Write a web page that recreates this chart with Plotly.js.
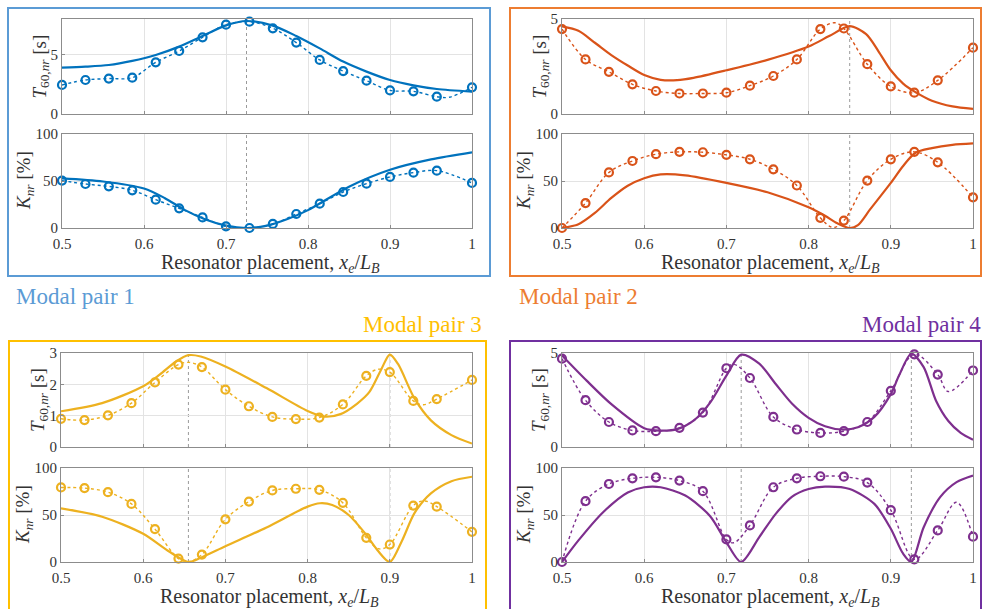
<!DOCTYPE html>
<html>
<head>
<meta charset="utf-8">
<script src="https://cdn.plot.ly/plotly-3.0.1.min.js"></script>
<style>html,body{margin:0;padding:0;background:#fff;}#chart{width:982px;height:609px;}</style>
</head>
<body>
<div id="chart"></div>
<script>
// ---------- DATA ----------
// simulated points (markers) x positions
const xMarkers = [0.5, 0.5286, 0.5571, 0.5857, 0.6143, 0.6429, 0.6714, 0.7, 0.7286, 0.7571, 0.7857, 0.8143, 0.8429, 0.8714, 0.9, 0.9286, 0.9571, 1.0];

// Modal pair 1
const p1T_markers = [2.46, 2.88, 3.0, 3.08, 4.38, 5.34, 6.5, 7.57, 7.82, 7.26, 6.05, 4.58, 3.64, 2.82, 2.0, 1.92, 1.47, 2.26];
const p1K_markers = [50.4, 46.8, 44.3, 40.1, 30.1, 20.9, 11.3, 1.8, 0, 4.3, 14.9, 25.9, 38.3, 47.2, 54.3, 58.9, 61.0, 47.9];
const p1T_x = [0.5, 0.5286, 0.5571, 0.5857, 0.6143, 0.6429, 0.6714, 0.7, 0.725, 0.7571, 0.7857, 0.8143, 0.8429, 0.8714, 0.9, 0.9286, 0.9571, 1.0];
const p1T_line = [3.93, 4.01, 4.15, 4.5, 5.0, 5.71, 6.61, 7.51, 7.88, 7.49, 6.61, 5.56, 4.44, 3.59, 2.88, 2.43, 2.12, 1.9];
const p1K_x = [0.5, 0.55, 0.6, 0.625, 0.65, 0.675, 0.7, 0.725, 0.75, 0.775, 0.8, 0.85, 0.9, 0.95, 1.0];
const p1K_line = [52.8, 49.5, 42, 32, 19, 9, 2.5, 0, 2.5, 9.5, 19, 44, 62, 73, 80.5];
// extra points of the dotted interpolating curves (between markers), [x, y]
const p1T_dotExtra = [[0.972, 1.42]];
const p1K_dotExtra = [];

// Modal pair 2
const p2T_markers = [4.47, 2.87, 2.22, 1.56, 1.21, 1.08, 1.08, 1.12, 1.49, 2.0, 2.87, 4.47, 4.5, 2.62, 1.45, 1.12, 1.77, 3.49];
const p2K_markers = [0, 26.5, 59.1, 71.3, 78.5, 81, 80.6, 77.8, 73.1, 62.4, 45.2, 10.8, 7.9, 50.5, 73.1, 81, 69.9, 32.6];
const p2T_x = [0.5, 0.52, 0.54, 0.56, 0.58, 0.6, 0.62, 0.64, 0.66, 0.7, 0.75, 0.8, 0.825, 0.85, 0.87, 0.885, 0.9, 0.915, 0.93, 0.95, 0.975, 1.0];
const p2T_line = [4.61, 4.38, 3.75, 3.1, 2.55, 2.05, 1.8, 1.78, 1.9, 2.3, 2.85, 3.55, 4.1, 4.62, 4.2, 3.3, 2.3, 1.6, 1.15, 0.7, 0.4, 0.27];
const p2K_x = [0.5, 0.52, 0.54, 0.56, 0.58, 0.6, 0.62, 0.65, 0.7, 0.75, 0.8, 0.82, 0.835, 0.85, 0.86, 0.875, 0.9, 0.915, 0.93, 0.95, 0.975, 1.0];
const p2K_line = [0, 4, 16, 32, 45, 53, 57, 56, 48, 38, 22, 13, 5, 0, 3, 20, 48, 66, 80, 85, 88.5, 90];
const p2T_dotExtra = [[0.832, 4.8]];
const p2K_dotExtra = [[0.83, 0.5]];

// Modal pair 3
const p3T_markers = [0.9, 0.86, 1.01, 1.4, 2.06, 2.63, 2.55, 1.83, 1.3, 0.96, 0.89, 0.94, 1.36, 2.27, 2.39, 1.47, 1.53, 2.14];
const p3K_markers = [79.3, 78.6, 74.3, 61.8, 35, 3.6, 7.9, 45.4, 64.3, 76.1, 77.9, 76.8, 62.9, 25.7, 18.6, 60, 58.9, 32.1];
const p3T_x = [0.5, 0.55, 0.6, 0.62, 0.64, 0.655, 0.67, 0.7, 0.75, 0.8, 0.82, 0.84, 0.86, 0.875, 0.89, 0.9, 0.91, 0.93, 0.95, 0.975, 1.0];
const p3T_line = [1.14, 1.4, 1.94, 2.31, 2.73, 2.93, 2.89, 2.57, 1.88, 1.15, 0.97, 1.05, 1.38, 1.75, 2.5, 2.95, 2.65, 1.55, 0.85, 0.38, 0.11];
const p3K_x = [0.5, 0.55, 0.6, 0.63, 0.655, 0.67, 0.7, 0.75, 0.8, 0.815, 0.83, 0.85, 0.87, 0.885, 0.9, 0.915, 0.93, 0.95, 0.975, 1.0];
const p3K_line = [57.1, 48.2, 30, 12, 0, 4.6, 16.8, 36.8, 58.9, 62.5, 60.7, 50, 30.4, 12.5, 0, 23, 52, 73, 86, 90.7];
const p3T_dotExtra = [[0.656, 2.7], [0.886, 2.48], [0.941, 1.35]];
const p3K_dotExtra = [[0.655, 0.5], [0.887, 14], [0.942, 65]];

// Modal pair 4
const p4T_markers = [4.7, 2.49, 1.33, 0.88, 0.84, 1.02, 1.83, 4.19, 3.67, 1.6, 0.93, 0.75, 0.84, 1.33, 2.99, 4.93, 3.85, 4.07];
const p4K_markers = [0, 64.7, 83, 89, 90.1, 86.6, 75.3, 24, 38.9, 79.5, 89, 91.2, 90.8, 84.5, 55.1, 2.8, 33.6, 26.9];
const p4T_x = [0.5, 0.53, 0.56, 0.6, 0.62, 0.64, 0.66, 0.68, 0.7, 0.718, 0.74, 0.76, 0.78, 0.8, 0.82, 0.84, 0.86, 0.88, 0.9, 0.91, 0.925, 0.94, 0.955, 0.97, 0.985, 1.0];
const p4T_line = [4.87, 3.53, 2.28, 1.0, 0.87, 0.95, 1.4, 2.35, 3.8, 4.91, 4.43, 3.35, 2.3, 1.55, 1.1, 0.93, 1.05, 1.6, 2.81, 3.8, 4.96, 4.25, 2.46, 1.38, 0.75, 0.39];
const p4K_x = [0.5, 0.52, 0.55, 0.58, 0.6, 0.62, 0.65, 0.68, 0.7, 0.718, 0.74, 0.76, 0.78, 0.8, 0.82, 0.85, 0.88, 0.9, 0.915, 0.925, 0.94, 0.96, 0.98, 1.0];
const p4K_line = [0, 23, 53, 74, 79.5, 79.5, 70.7, 49, 21, 0, 26.5, 51.2, 69.6, 77.7, 80.2, 77.7, 61.8, 35.3, 8.8, 0, 37, 69, 85, 92];
const p4T_dotExtra = [[0.709, 4.4], [0.97, 2.95]];
const p4K_dotExtra = [[0.709, 20.5], [0.98, 63.5]];

// vertical reference positions
const p1Ref = [0.725];
const p2Ref = [0.85];
const p3Ref = [0.655, 0.9];
const p4Ref = [0.718, 0.925];

const panelLabels = ['Modal pair 1', 'Modal pair 2', 'Modal pair 3', 'Modal pair 4'];
const xTickVals = [0.5, 0.6, 0.7, 0.8, 0.9, 1.0];
const xTickText = ['0.5', '0.6', '0.7', '0.8', '0.9', '1'];

// ---------- STYLE ----------
const W = 982, H = 609;
const lineColors = ['#0072BD', '#D95319', '#EDB120', '#7E2F8E'];
const frameColors = ['#5B9BD5', '#ED7D31', '#FFC000', '#7030A0'];
const FONT = 'Times New Roman';

function px2x(a) { return a / W; }
function px2y(a) { return 1 - a / H; }
function mergeDots(xs, ys, extra) {
  const pts = xs.map((x, i) => [x, ys[i]]).concat(extra);
  pts.sort((a, b) => a[0] - b[0]);
  return {x: pts.map(q => q[0]), y: pts.map(q => q[1])};
}

const panels = [
  {mx: p1T_markers, mk: p1K_markers, tx: p1T_x, tl: p1T_line, kx: p1K_x, kl: p1K_line, te: p1T_dotExtra, ke: p1K_dotExtra, ref: p1Ref, left: 62, right: 472, tTop: 19, tBot: 114, kTop: 134, kBot: 228, tRange: [0, 8.05], tTicks: [0, 5]},
  {mx: p2T_markers, mk: p2K_markers, tx: p2T_x, tl: p2T_line, kx: p2K_x, kl: p2K_line, te: p2T_dotExtra, ke: p2K_dotExtra, ref: p2Ref, left: 562, right: 973, tTop: 19, tBot: 114, kTop: 134, kBot: 228, tRange: [0, 5], tTicks: [0, 5]},
  {mx: p3T_markers, mk: p3K_markers, tx: p3T_x, tl: p3T_line, kx: p3K_x, kl: p3K_line, te: p3T_dotExtra, ke: p3K_dotExtra, ref: p3Ref, left: 61, right: 472, tTop: 353, tBot: 447, kTop: 468, kBot: 562, tRange: [0, 3], tTicks: [0, 1, 2, 3]},
  {mx: p4T_markers, mk: p4K_markers, tx: p4T_x, tl: p4T_line, kx: p4K_x, kl: p4K_line, te: p4T_dotExtra, ke: p4K_dotExtra, ref: p4Ref, left: 562, right: 973, tTop: 353, tBot: 447, kTop: 468, kBot: 562, tRange: [0, 5], tTicks: [0, 5]}
];

const traces = [];
const layout = {
  width: W, height: H,
  margin: {l: 0, r: 0, t: 0, b: 0},
  paper_bgcolor: '#ffffff', plot_bgcolor: '#ffffff',
  showlegend: false,
  font: {family: FONT, size: 13, color: '#333333'},
  shapes: [], annotations: []
};

function axisBase() {
  return {
    showline: true, mirror: true, linecolor: '#8c8c8c', linewidth: 1,
    showgrid: true, gridcolor: '#e3e3e3', gridwidth: 1,
    zeroline: false, ticks: 'inside', ticklen: 3, tickcolor: '#8c8c8c',
    tickfont: {family: FONT, size: 15, color: '#333333'},
    fixedrange: true
  };
}

panels.forEach((p, i) => {
  const c = lineColors[i];
  const nT = 2 * i + 1, nK = 2 * i + 2;
  const xT = 'x' + (nT === 1 ? '' : nT), yT = 'y' + (nT === 1 ? '' : nT);
  const xK = 'x' + nK, yK = 'y' + nK;
  const xaT = 'xaxis' + (nT === 1 ? '' : nT), yaT = 'yaxis' + (nT === 1 ? '' : nT);
  const xaK = 'xaxis' + nK, yaK = 'yaxis' + nK;
  const dom = [px2x(p.left), px2x(p.right)];

  layout[xaT] = Object.assign(axisBase(), {domain: dom, range: [0.5, 1], tickvals: xTickVals, showticklabels: false, anchor: yT});
  layout[yaT] = Object.assign(axisBase(), {domain: [px2y(p.tBot), px2y(p.tTop)], range: p.tRange, tickvals: p.tTicks, anchor: xT});
  layout[xaK] = Object.assign(axisBase(), {domain: dom, range: [0.5, 1], tickvals: xTickVals, ticktext: xTickText, anchor: yK, ticklabelstandoff: 2});
  layout[yaK] = Object.assign(axisBase(), {domain: [px2y(p.kBot), px2y(p.kTop)], range: [0, 100], tickvals: [0, 50, 100], anchor: xK});

  // solid (model) curves
  traces.push({x: p.tx, y: p.tl, xaxis: xT, yaxis: yT, mode: 'lines', line: {color: c, width: 2.2, shape: 'spline', smoothing: 0.8}, hoverinfo: 'skip'});
  traces.push({x: p.kx, y: p.kl, xaxis: xK, yaxis: yK, mode: 'lines', line: {color: c, width: 2.2, shape: 'spline', smoothing: 0.8}, hoverinfo: 'skip'});
  // dotted interpolating curves
  const dT = mergeDots(xMarkers, p.mx, p.te), dK = mergeDots(xMarkers, p.mk, p.ke);
  traces.push({x: dT.x, y: dT.y, xaxis: xT, yaxis: yT, mode: 'lines', line: {color: c, width: 1.4, dash: 'dot', shape: 'spline', smoothing: 1}, hoverinfo: 'skip'});
  traces.push({x: dK.x, y: dK.y, xaxis: xK, yaxis: yK, mode: 'lines', line: {color: c, width: 1.4, dash: 'dot', shape: 'spline', smoothing: 1}, hoverinfo: 'skip'});
  // simulated markers
  traces.push({x: xMarkers, y: p.mx, xaxis: xT, yaxis: yT, mode: 'markers', cliponaxis: false,
    marker: {symbol: 'circle-open', size: 8, color: c, line: {width: 2.2, color: c}}, hoverinfo: 'skip'});
  traces.push({x: xMarkers, y: p.mk, xaxis: xK, yaxis: yK, mode: 'markers', cliponaxis: false,
    marker: {symbol: 'circle-open', size: 8, color: c, line: {width: 2.2, color: c}}, hoverinfo: 'skip'});

  // reference vertical lines
  p.ref.forEach(r => {
    [[xT, yT], [xK, yK]].forEach(([xa, ya]) => {
      layout.shapes.push({type: 'line', xref: xa, yref: ya + ' domain', x0: r, x1: r, y0: 0, y1: 1, layer: 'below',
        line: {color: '#9a9a9a', width: 1, dash: 'dot'}});
    });
  });

  // axis titles
  layout.annotations.push({xref: 'paper', yref: 'paper', x: px2x(p.left - 22), y: px2y((p.tTop + p.tBot) / 2), textangle: -90,
    text: '<i>T</i><sub>60,<i>nr</i></sub> [s]', showarrow: false, xanchor: 'center', yanchor: 'middle', font: {family: FONT, size: 19, color: '#333333'}});
  layout.annotations.push({xref: 'paper', yref: 'paper', x: px2x(p.left - 37), y: px2y((p.kTop + p.kBot) / 2), textangle: -90,
    text: '<i>K</i><sub><i>nr</i></sub> [%]', showarrow: false, xanchor: 'center', yanchor: 'middle', font: {family: FONT, size: 19, color: '#333333'}});
  layout.annotations.push({xref: 'paper', yref: 'paper', x: px2x((p.left + p.right) / 2 + 3), y: px2y(p.kBot + 35),
    text: 'Resonator placement, <i>x<sub>e</sub></i>/<i>L<sub>B</sub></i>', showarrow: false, xanchor: 'center', yanchor: 'middle', font: {family: FONT, size: 20, color: '#333333'}});
});

// panel frames
const frames = [[8, 8, 490, 276], [510, 8, 981, 276], [9, 341, 486, 640], [510, 341, 981, 640]];
frames.forEach((f, i) => {
  layout.shapes.push({type: 'rect', xref: 'paper', yref: 'paper', x0: px2x(f[0]), x1: px2x(f[2]), y0: px2y(f[3]), y1: px2y(f[1]),
    line: {color: frameColors[i], width: 2}, fillcolor: 'rgba(0,0,0,0)', layer: 'below'});
});

// panel labels
const labelPos = [[14, 296, 'left'], [517, 296, 'left'], [484, 324, 'right'], [983, 324, 'right']];
labelPos.forEach((lp, i) => {
  layout.annotations.push({xref: 'paper', yref: 'paper', x: px2x(lp[0]), y: px2y(lp[1]), xanchor: lp[2], yanchor: 'middle',
    text: panelLabels[i], showarrow: false, font: {family: FONT, size: 23, color: frameColors[i]}});
});

Plotly.newPlot('chart', traces, layout, {displayModeBar: false, staticPlot: true});
</script>
</body>
</html>
